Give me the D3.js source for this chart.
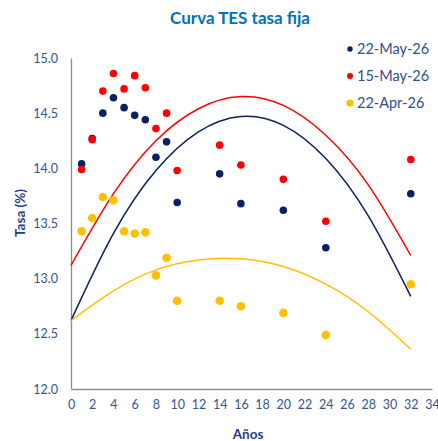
<!DOCTYPE html>
<html>
<head>
<meta charset="utf-8">
<script src="https://cdn.jsdelivr.net/npm/d3@7"></script>
<style>
  body { margin: 0; background: #fff; }
  svg text { font-family: "Lato", "DejaVu Sans", sans-serif; }
</style>
</head>
<body>
<script>
// plazos (años) de los TES
var plazos = [1, 2, 3, 4, 5, 6, 7, 8, 9, 10, 14, 16, 20, 24, 32];

// tasas observadas por fecha
var tasas22May = [14.04, 14.27, 14.50, 14.64, 14.55, 14.48, 14.44, 14.10, 14.24, 13.69, 13.95, 13.68, 13.62, 13.28, 13.77];
var tasas15May = [13.99, 14.26, 14.70, 14.86, 14.72, 14.84, 14.73, 14.36, 14.50, 13.98, 14.21, 14.03, 13.90, 13.52, 14.08];
var tasas22Apr = [13.43, 13.55, 13.74, 13.71, 13.43, 13.41, 13.42, 13.03, 13.19, 12.80, 12.80, 12.75, 12.69, 12.49, 12.95];

// curvas ajustadas
var curvaX = [0, 4, 8, 12, 16, 20, 24, 28, 32];
var curva22May = [12.62, 13.41, 13.98, 14.33, 14.47, 14.39, 14.09, 13.57, 12.84];
var curva15May = [13.12, 13.77, 14.25, 14.54, 14.65, 14.57, 14.30, 13.85, 13.21];
var curva22Apr = [12.62, 12.89, 13.08, 13.17, 13.18, 13.11, 12.95, 12.70, 12.36];

var xTicks = d3.range(0, 35, 2);
var yTicks = [12.0, 12.5, 13.0, 13.5, 14.0, 14.5, 15.0];

var series = [
  { name: '22-May-26', color: '#0b2060', r: 3.8, lr: 2.7, pts: tasas22May, curve: curva22May },
  { name: '15-May-26', color: '#ff0000', r: 3.8, lr: 3.0, pts: tasas15May, curve: curva15May },
  { name: '22-Apr-26', color: '#ffc000', r: 4.3, lr: 3.6, pts: tasas22Apr, curve: curva22Apr }
];

var width = 438, height = 441;
var margin = { top: 58, right: 6, bottom: 52, left: 71 };

var svg = d3.select('body').append('svg')
  .attr('width', width)
  .attr('height', height);

var x = d3.scaleLinear().domain([0, 34]).range([margin.left, width - margin.right]);
var y = d3.scaleLinear().domain([12, 15]).range([height - margin.bottom, margin.top]);

// titulo
svg.append('text')
  .attr('x', 240).attr('y', 24)
  .attr('text-anchor', 'middle')
  .attr('fill', '#0070c0')
  .style('font-size', '17px')
  .style('font-weight', 'bold')
  .text('Curva TES tasa fija');

// ejes
var axisColor = '#8c8c8c';
var tickColor = '#34558f';

var xAxis = svg.append('g')
  .attr('transform', 'translate(0,' + y(12) + ')')
  .call(d3.axisBottom(x).tickValues(xTicks).tickSize(0).tickPadding(11));
xAxis.select('.domain').attr('stroke', axisColor).attr('stroke-width', 1.3);
xAxis.selectAll('text').attr('fill', tickColor).style('font-size', '12.5px');

var yAxis = svg.append('g')
  .attr('transform', 'translate(' + x(0) + ',0)')
  .call(d3.axisLeft(y).tickValues(yTicks).tickFormat(d3.format('.1f')).tickSize(0).tickPadding(13));
yAxis.select('.domain').attr('stroke', axisColor).attr('stroke-width', 1.3);
yAxis.selectAll('text').attr('fill', tickColor).style('font-size', '12.5px');

// titulos de ejes
svg.append('text')
  .attr('x', 248).attr('y', 439)
  .attr('text-anchor', 'middle')
  .attr('fill', '#1f3c88')
  .style('font-size', '13.5px')
  .style('font-weight', 'bold')
  .text('Años');

svg.append('text')
  .attr('transform', 'translate(25,213) rotate(-90)')
  .attr('text-anchor', 'middle')
  .attr('fill', '#1f3c88')
  .style('font-size', '13.5px')
  .style('font-weight', 'bold')
  .text('Tasa (%)');

// curvas
var line = d3.line()
  .x(function(d, i) { return x(curvaX[i]); })
  .y(function(d) { return y(d); })
  .curve(d3.curveNatural);

series.forEach(function(s) {
  svg.append('path')
    .attr('d', line(s.curve))
    .attr('fill', 'none')
    .attr('stroke', s.color)
    .attr('stroke-width', 1.5);
});

// puntos
series.forEach(function(s) {
  svg.append('g').selectAll('circle')
    .data(s.pts)
    .enter().append('circle')
    .attr('cx', function(d, i) { return x(plazos[i]); })
    .attr('cy', function(d) { return y(d); })
    .attr('r', s.r)
    .attr('fill', s.color);
});

// leyenda
var legend = svg.append('g').attr('transform', 'translate(350,49)');
series.forEach(function(s, i) {
  var g = legend.append('g').attr('transform', 'translate(0,' + (i * 27) + ')');
  g.append('circle').attr('r', s.lr).attr('fill', s.color);
  g.append('text')
    .attr('x', 7).attr('dy', '0.35em')
    .attr('fill', '#2e4e8e')
    .style('font-size', '14.5px')
    .text(s.name);
});
</script>
</body>
</html>
